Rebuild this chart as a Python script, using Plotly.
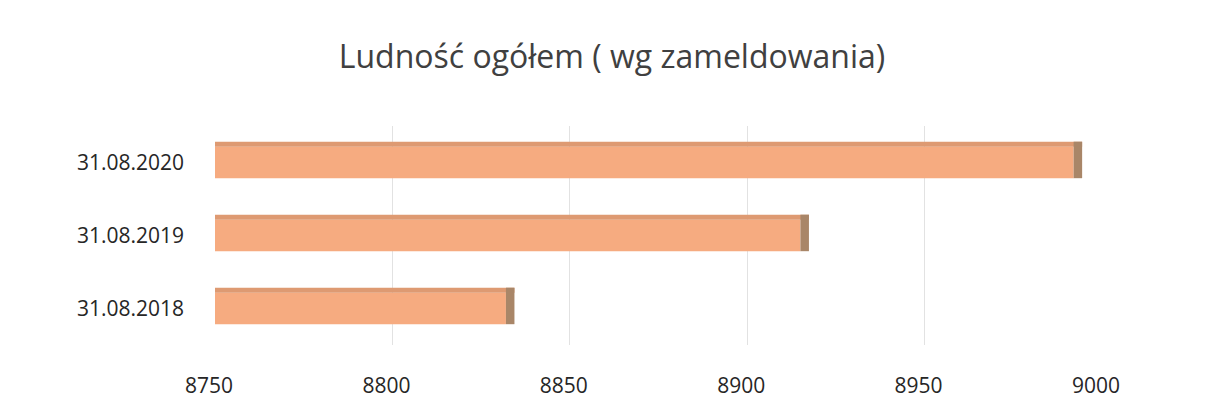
import plotly.graph_objects as go

categories = ["31.08.2018", "31.08.2019", "31.08.2020"]
values = [8832, 8915, 8992]
tick_vals = [8750, 8800, 8850, 8900, 8950, 9000]
title_text = "Ludność ogółem ( wg zameldowania)"

AXIS_MIN = 8750
lengths = [v - AXIS_MIN for v in values]
depth = 2.4

fig = go.Figure()
# front face
fig.add_trace(go.Bar(
    y=categories, x=lengths, base=AXIS_MIN, orientation="h",
    width=0.43, offset=-0.215,
    marker=dict(color="#F6AB80", line=dict(width=0)),
    hoverinfo="skip", showlegend=False,
))
# top face (thin strip)
fig.add_trace(go.Bar(
    y=categories, x=[l + depth for l in lengths], base=AXIS_MIN, orientation="h",
    width=0.07, offset=0.215,
    marker=dict(color="#DE9A72", line=dict(width=0)),
    hoverinfo="skip", showlegend=False,
))
# end face
fig.add_trace(go.Bar(
    y=categories, x=[depth] * len(values), base=values, orientation="h",
    width=0.5, offset=-0.215,
    marker=dict(color="#A98668", line=dict(width=0)),
    hoverinfo="skip", showlegend=False,
))

fig.update_layout(
    width=1208, height=410,
    barmode="overlay",
    paper_bgcolor="white", plot_bgcolor="white",
    margin=dict(l=207, r=114, t=118, b=73),
    title=dict(text=title_text, x=0.5, xanchor="center", y=0.88, yanchor="middle",
               font=dict(family="Open Sans, sans-serif", size=32, color="#404040")),
    xaxis=dict(range=[AXIS_MIN, 9000], tickvals=tick_vals, showgrid=True,
               gridcolor="#E2E2E2", gridwidth=1, zeroline=False, showline=False,
               ticks="", ticklabelstandoff=26, ticklabelshift=-6,
               tickfont=dict(family="Open Sans, sans-serif", size=21, color="#262626")),
    yaxis=dict(type="category", categoryorder="array", categoryarray=categories,
               range=[-0.5, 2.5], showgrid=False, zeroline=False, showline=False,
               ticks="", ticklabelstandoff=30,
               tickfont=dict(family="Open Sans, sans-serif", size=21, color="#262626")),
)

fig.write_html("out.html")
